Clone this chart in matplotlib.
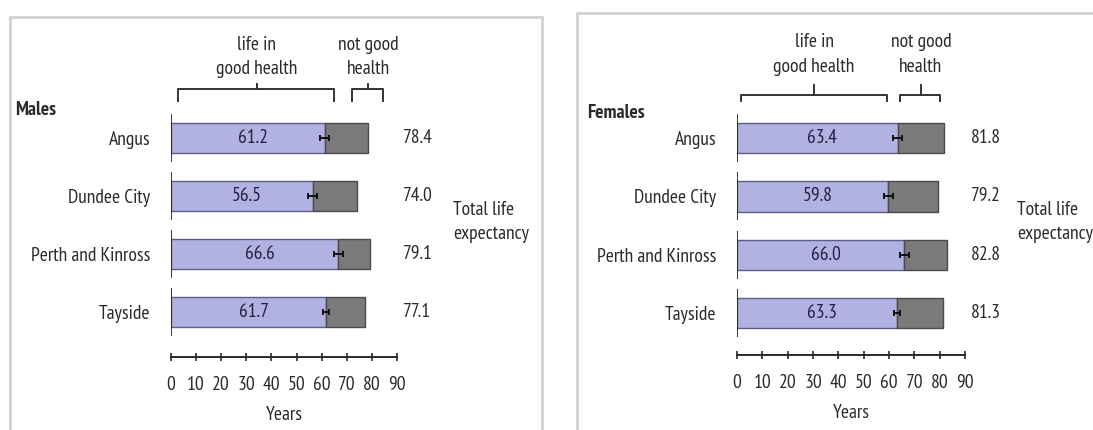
import numpy as np
import matplotlib.pyplot as plt
from matplotlib.patches import Rectangle
from matplotlib.transforms import blended_transform_factory

plt.rcParams['font.family'] = ['PT Sans Narrow', 'Roboto', 'DejaVu Sans']

areas = ['Angus', 'Dundee City', 'Perth and Kinross', 'Tayside']
male_healthy = [61.2, 56.5, 66.6, 61.7]
male_total = [78.4, 74.0, 79.1, 77.1]
female_healthy = [63.4, 59.8, 66.0, 63.3]
female_total = [81.8, 79.2, 82.8, 81.3]
ci = [1.8, 1.8, 1.8, 1.2]   # half width of the healthy-life interval
ticks = [0, 10, 20, 30, 40, 50, 60, 70, 80, 90]

W, H = 1093, 430
fig = plt.figure(figsize=(W / 100, H / 100), dpi=100)
fig.patch.set_facecolor('white')
INK = '#2a2a2a'
FS = 14

def px(x0, y0, x1, y1):
    # pixel box (top-left origin) -> figure fraction
    return [x0 / W, 1 - y1 / H, (x1 - x0) / W, (y1 - y0) / H]

# panel frames
for x0, y0, x1 in [(10, 17, 542), (577, 13, 1110)]:
    fig.patches.append(Rectangle((x0 / W, -0.05), (x1 - x0) / W, 1.05 - y0 / H,
                                 transform=fig.transFigure, fill=False,
                                 edgecolor='#d2d2d2', lw=2))

def panel(box, healthy, total, ylim, title, title_xy, brackets, br_y, total_xy):
    ax = fig.add_axes(box)
    y = np.arange(len(areas))
    barh = 0.52
    healthy = np.array(healthy)
    total = np.array(total)
    ax.barh(y, healthy, height=barh, color='#b2b2e2', edgecolor='#5c5c88', lw=1)
    ax.barh(y, total - healthy, left=healthy, height=barh, color='#7a7a7a',
            edgecolor='#4a4a4a', lw=1)
    ax.errorbar(healthy, y, xerr=ci, fmt='none', ecolor='#111111',
                elinewidth=1.4, capsize=2.5, capthick=1.4)
    for yi, h, t in zip(y, healthy, total):
        ax.text(h / 2 + 2, yi, f'{h:.1f}', ha='center', va='center',
                fontsize=FS, color='#202040')
        ax.text(92.3, yi, f'{t:.1f}', ha='left', va='center', fontsize=FS,
                color=INK, clip_on=False)
    # short axis segments beside each bar
    ax.vlines(np.zeros(len(y)), y - barh / 2 - 0.15, y + barh / 2 + 0.15,
              color=INK, lw=1.3)
    ax.set_xlim(0, 90)
    ax.set_ylim(ylim)
    ax.set_yticks(y)
    ax.set_yticklabels(areas, fontsize=FS, color=INK)
    ax.tick_params(axis='y', length=0, pad=15)
    ax.set_xticks(ticks)
    ax.tick_params(axis='x', direction='inout', length=6, width=1.2,
                   labelsize=FS, pad=11, colors=INK)
    ax.set_xlabel('Years', fontsize=FS, color=INK, labelpad=8)
    for s in ['top', 'right', 'left']:
        ax.spines[s].set_visible(False)
    ax.spines['bottom'].set_linewidth(1.4)
    ax.spines['bottom'].set_color(INK)
    ax.set_facecolor('none')

    tr = blended_transform_factory(ax.transData, ax.transAxes)
    lo, mid, hi, lab = br_y
    for (xa, xb, xc, label) in brackets:
        ax.plot([xa, xa, xb, xb], [lo, mid, mid, lo], transform=tr,
                color='#333333', lw=1.4, clip_on=False)
        ax.plot([xc, xc], [mid, hi], transform=tr, color='#333333',
                lw=1.4, clip_on=False)
        ax.text(xc, lab, label, transform=tr, ha='center', va='bottom',
                fontsize=FS, color=INK, linespacing=1.45)
    fig.text(title_xy[0] / W, 1 - title_xy[1] / H, title, fontsize=14,
             style='italic', weight='bold', color=INK, va='center')
    fig.text(total_xy[0] / W, 1 - total_xy[1] / H, 'Total life\nexpectancy',
             fontsize=FS, color=INK, va='center', ha='left', linespacing=1.45)
    return ax

panel(px(171, 110, 397, 357), male_healthy, male_total, (3.776, -0.483),
      'Males', (15, 110),
      [(2.8, 64.9, 34.2, 'life in\ngood health'),
       (72.1, 84.4, 78.5, 'not good\nhealth')],
      (1.036, 1.085, 1.105, 1.13), (453, 222))
panel(px(737, 110, 965, 355), female_healthy, female_total, (3.72, -0.48),
      'Females', (587, 113),
      [(1.6, 59.2, 30.4, 'life in\ngood health'),
       (64.4, 80.1, 72.6, 'not good\nhealth')],
      (1.037, 1.061, 1.102, 1.14), (1017, 222))

fig.savefig('out.png', dpi=100)
